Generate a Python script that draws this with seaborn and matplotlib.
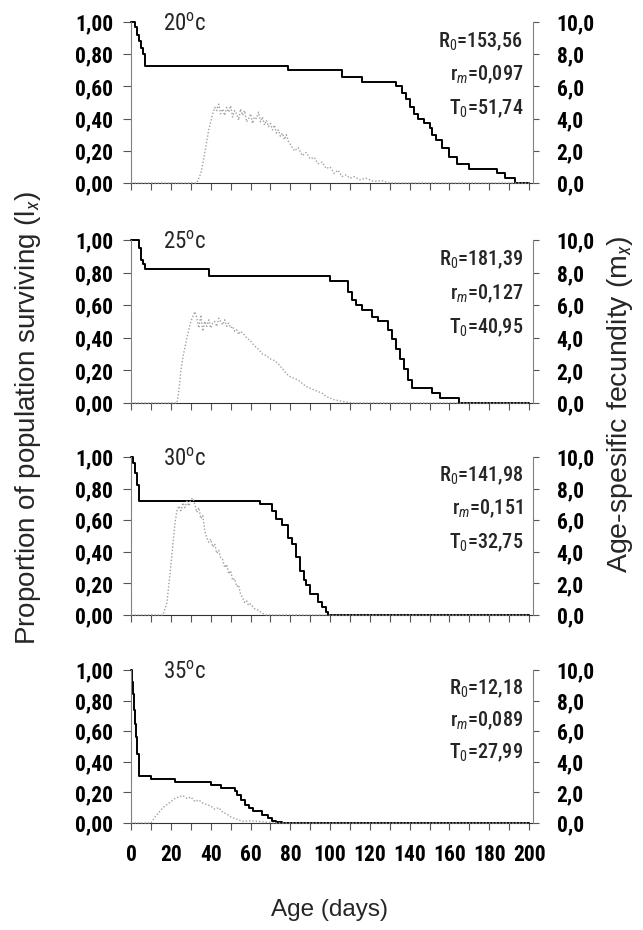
import matplotlib
matplotlib.use("Agg")
import matplotlib.pyplot as plt
from matplotlib.ticker import FuncFormatter
import seaborn as sns
import pandas as pd

# survival (lx) step change points and age-specific fecundity (mx)
lx20_day = [0, 2, 3, 4, 5, 6, 7, 79, 106, 116, 133, 136, 138, 140, 142, 144, 147, 150, 151, 153, 156, 160, 164, 170, 184, 188, 193, 200]
lx20 = [1.00, 0.97, 0.92, 0.88, 0.84, 0.80, 0.73, 0.70, 0.66, 0.63, 0.60, 0.56, 0.52, 0.47, 0.43, 0.40, 0.37, 0.34, 0.30, 0.27, 0.22, 0.16, 0.12, 0.09, 0.06, 0.03, 0.00, 0.00]
mx20_day = [0, 33, 35, 36, 37, 38, 39, 40, 41, 42, 43, 44, 45, 46, 47, 48, 49, 50, 51, 52, 53, 54, 55, 56, 57, 58, 59,
            60, 61, 62, 63, 64, 65, 66, 67, 68, 69, 70, 71, 72, 73, 74, 75, 76, 77, 78, 79, 80, 82, 84, 86, 88, 90,
            92, 94, 96, 98, 100, 102, 104, 106, 108, 110, 112, 115, 118, 122, 126, 130, 200]
mx20 = [0, 0, 0.6, 1.2, 1.9, 2.6, 3.3, 3.8, 4.3, 4.7, 4.5, 4.9, 4.3, 4.6, 4.2, 4.7, 4.4, 4.8, 4.1, 4.5, 4.3, 3.9, 4.6, 4.2, 4.5, 3.8, 4.0,
        4.3, 3.7, 4.1, 4.0, 4.4, 3.8, 4.1, 3.6, 3.9, 3.5, 3.7, 3.3, 3.6, 3.1, 3.3, 2.9, 3.1, 2.7, 3.0, 2.6, 2.4, 2.0, 2.2, 1.7, 1.9, 1.5,
        1.6, 1.2, 1.3, 0.9, 1.0, 0.6, 0.8, 0.4, 0.5, 0.3, 0.4, 0.2, 0.3, 0.1, 0.15, 0, 0]

lx25_day = [0, 4, 5, 6, 7, 39, 100, 109, 111, 113, 116, 121, 124, 129, 131, 133, 135, 137, 139, 141, 151, 155, 165, 200]
lx25 = [1.00, 0.95, 0.88, 0.85, 0.82, 0.78, 0.75, 0.68, 0.63, 0.60, 0.57, 0.53, 0.50, 0.45, 0.39, 0.33, 0.27, 0.21, 0.14, 0.09, 0.06, 0.03, 0.00, 0.00]
mx25_day = [0, 23, 24, 25, 26, 27, 28, 29, 30, 31, 32, 33, 34, 35, 36, 37, 38, 39, 40, 41, 42, 43, 44, 45, 46, 47, 48, 49,
            50, 51, 52, 53, 54, 55, 56, 58, 60, 62, 64, 66, 68, 70, 72, 74, 76, 78, 80, 82, 84, 86, 88, 90, 92, 94, 96,
            98, 100, 102, 104, 108, 112, 200]
mx25 = [0, 0, 0.8, 2.0, 2.8, 3.4, 4.0, 4.5, 5.0, 5.3, 5.6, 5.2, 4.6, 5.4, 4.4, 5.0, 4.7, 5.1, 4.6, 4.9, 5.0, 4.7, 5.2, 5.0, 4.8, 5.1, 4.7, 4.9,
        4.6, 4.7, 4.4, 4.5, 4.2, 4.4, 4.3, 4.0, 3.8, 3.5, 3.3, 3.0, 2.9, 2.7, 2.6, 2.4, 2.1, 1.8, 1.6, 1.5, 1.4, 1.2, 1.0, 0.9, 0.8, 0.7, 0.6,
        0.4, 0.3, 0.2, 0.15, 0.05, 0, 0]

lx30_day = [0, 1, 2, 3, 4, 65, 71, 73, 76, 79, 81, 83, 85, 87, 88, 90, 94, 96, 98, 99, 200]
lx30 = [1.00, 0.96, 0.90, 0.82, 0.72, 0.70, 0.66, 0.61, 0.57, 0.49, 0.45, 0.37, 0.28, 0.22, 0.19, 0.13, 0.08, 0.05, 0.02, 0.00, 0.00]
mx30_day = [0, 16, 18, 19, 20, 21, 22, 23, 24, 25, 26, 27, 28, 29, 30, 31, 32, 33, 34, 35, 36, 37, 38, 39, 40, 41, 42,
            43, 44, 45, 46, 47, 48, 49, 50, 51, 52, 53, 54, 55, 56, 57, 58, 59, 60, 62, 64, 66, 68, 200]
mx30 = [0, 0, 0.8, 2.0, 3.2, 4.5, 5.8, 6.6, 6.9, 6.6, 7.1, 6.8, 7.2, 6.9, 7.3, 7.4, 7.0, 6.5, 6.8, 6.1, 6.3, 5.3, 4.9, 4.6, 4.8, 4.3, 4.5,
        3.9, 4.1, 3.6, 3.5, 3.0, 3.2, 2.6, 2.8, 2.2, 2.3, 1.8, 1.9, 1.3, 1.1, 0.8, 0.9, 0.6, 0.7, 0.4, 0.3, 0.1, 0, 0]

lx35_day = [0, 0.5, 1, 1.5, 2, 2.5, 3, 4, 10, 22, 40, 45, 52, 53, 55, 57, 59, 61, 66, 69, 71, 73, 76, 200]
lx35 = [1.00, 0.92, 0.84, 0.74, 0.65, 0.56, 0.45, 0.31, 0.29, 0.27, 0.25, 0.23, 0.21, 0.18, 0.15, 0.12, 0.10, 0.08, 0.05, 0.03, 0.015, 0.005, 0.00, 0.00]
mx35_day = [0, 10, 11, 12, 14, 16, 18, 20, 22, 24, 26, 28, 30, 32, 34, 36, 38, 40, 42, 44, 46, 48, 50, 52, 54, 56, 60, 64, 68, 72, 200]
mx35 = [0, 0, 0.2, 0.4, 0.7, 1.0, 1.2, 1.4, 1.6, 1.7, 1.8, 1.6, 1.7, 1.4, 1.5, 1.3, 1.2, 1.1, 0.9, 1.0, 0.7, 0.6, 0.4, 0.3, 0.2, 0.1, 0.15, 0.1, 0.05, 0, 0]

temps = ["20", "25", "30", "35"]
R0 = ["153,56", "181,39", "141,98", "12,18"]
rm = ["0,097", "0,127", "0,151", "0,089"]
T0 = ["51,74", "40,95", "32,75", "27,99"]

panels = [(lx20_day, lx20, mx20_day, mx20), (lx25_day, lx25, mx25_day, mx25),
          (lx30_day, lx30, mx30_day, mx30), (lx35_day, lx35, mx35_day, mx35)]

sns.set_style("ticks")
NARROW = ["Roboto Condensed", "DejaVu Sans"]
WIDE = ["Liberation Sans", "DejaVu Sans"]
plt.rcParams["font.family"] = NARROW
plt.rcParams["mathtext.fontset"] = "custom"
plt.rcParams["mathtext.rm"] = "Roboto Condensed"
plt.rcParams["mathtext.it"] = "Roboto Condensed:italic"
plt.rcParams["mathtext.bf"] = "Roboto Condensed:bold"

fig = plt.figure(figsize=(6.43, 9.30), dpi=100)
boxes = [(0.8032, 0.1731), (0.5667, 0.1753), (0.3387, 0.1699), (0.1151, 0.1645)]

for i, ((lxd, lxv, mxd, mxv), (b, h)) in enumerate(zip(panels, boxes)):
    ax = fig.add_axes([0.204, b, 0.625, h])
    ax2 = ax.twinx()
    df_lx = pd.DataFrame({"day": lxd, "lx": lxv})
    df_mx = pd.DataFrame({"day": mxd, "mx": mxv})
    sns.lineplot(data=df_lx, x="day", y="lx", ax=ax, color="black", lw=1.4,
                 drawstyle="steps-post", estimator=None, clip_on=False)
    sns.lineplot(data=df_mx, x="day", y="mx", ax=ax2, color="#a0a0a0", lw=1.0,
                 linestyle=(0, (1, 1.4)), estimator=None, clip_on=False)
    ax.set_xlim(0, 202)
    ax.set_ylim(0, 1.0)
    ax2.set_ylim(0, 10)
    ax.set_yticks([0, 0.2, 0.4, 0.6, 0.8, 1.0])
    ax2.set_yticks([0, 2, 4, 6, 8, 10])
    ax.yaxis.set_major_formatter(FuncFormatter(lambda v, p: f"{v:.2f}".replace(".", ",")))
    ax2.yaxis.set_major_formatter(FuncFormatter(lambda v, p: f"{v:.1f}".replace(".", ",")))
    ax.set_xticks(range(0, 201, 10))
    if i == 3:
        ax.set_xticklabels([str(d) if d % 20 == 0 else "" for d in range(0, 201, 10)])
    else:
        ax.set_xticklabels([])
    for a in (ax, ax2):
        a.set_xlabel("")
        a.set_ylabel("")
        a.spines["top"].set_visible(False)
        a.tick_params(labelsize=15.5, width=0.8, length=4, colors="#555555", labelcolor="black")
        for lab in a.get_yticklabels() + a.get_xticklabels():
            lab.set_fontweight("bold")
    ax.tick_params(axis="x", length=5, pad=10)
    ax.tick_params(axis="y", length=6, pad=7)
    ax2.tick_params(axis="y", length=4, pad=13)
    ax.spines["right"].set_visible(False)
    ax2.spines["left"].set_visible(False)
    ax2.spines["bottom"].set_visible(False)
    ax.spines["left"].set_color("#808080")
    ax.spines["bottom"].set_color("#333333")
    ax2.spines["right"].set_color("#808080")
    for s in ("left", "bottom"):
        ax.spines[s].set_linewidth(0.8)
    ax2.spines["right"].set_linewidth(0.8)

    ax.text(0.08, 0.985, temps[i] + "$^{\\mathrm{o}}$c", transform=ax.transAxes,
            ha="left", va="center", fontsize=16.5)
    ax.text(0.975, 0.88, "R$_0$=" + R0[i], transform=ax.transAxes, ha="right", va="center", fontsize=14.5, fontweight=500)
    ax.text(0.975, 0.67, "r$_m$=" + rm[i], transform=ax.transAxes, ha="right", va="center", fontsize=14.5, fontweight=500)
    ax.text(0.975, 0.46, "T$_0$=" + T0[i], transform=ax.transAxes, ha="right", va="center", fontsize=14.5, fontweight=500)

fig.text(0.043, 0.55, "Proportion of population surviving (l$_x$)", rotation=90,
         ha="center", va="center", fontsize=20, family=WIDE)
fig.text(0.964, 0.565, "Age-spesific fecundity (m$_x$)", rotation=90,
         ha="center", va="center", fontsize=20.5, family=WIDE)
fig.text(0.513, 0.022, "Age (days)", ha="center", va="center", fontsize=17.5, family=WIDE)

fig.savefig("out.png", dpi=100)
